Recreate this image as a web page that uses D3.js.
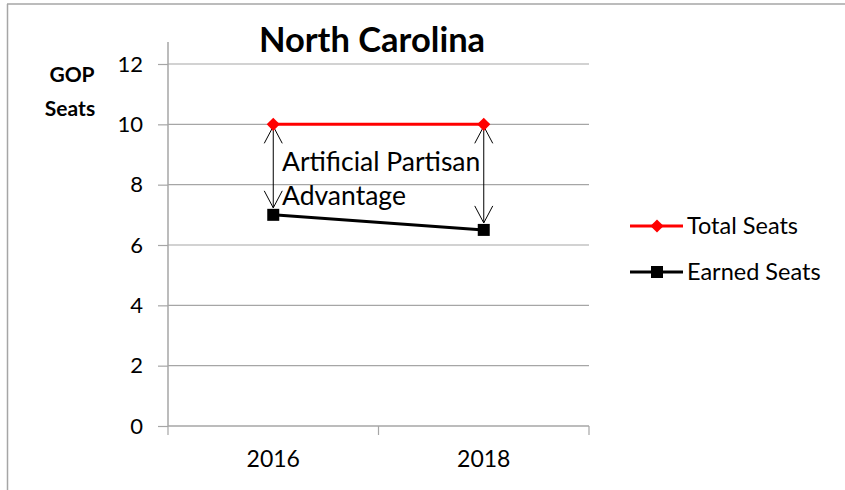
<!DOCTYPE html>
<html>
<head>
<meta charset="utf-8">
<script src="https://cdn.jsdelivr.net/npm/d3@7"></script>
<style>
  html, body { margin: 0; padding: 0; background: #fff; }
  svg { display: block; }
  text { font-family: Lato, "Open Sans", sans-serif; fill: #000; }
</style>
</head>
<body>
<svg id="chart" width="845" height="490"></svg>
<script>
const categories = ["2016", "2018"];
const totalSeats = [10, 10];
const earnedSeats = [7, 6.5];
const yTicks = [0, 2, 4, 6, 8, 10, 12];
const seriesNames = ["Total Seats", "Earned Seats"];
const titleText = "North Carolina";
const yTitle = ["GOP", "Seats"];
const annotation = ["Artificial Partisan", "Advantage"];

const svg = d3.select("#chart");
const W = 845, H = 490;
const plot = { left: 168, right: 589, top: 64, bottom: 426 };
const grid = "#a6a6a6";

svg.append("rect").attr("width", W).attr("height", H).attr("fill", "#fff");

// outer frame (top and left visible)
svg.append("line").attr("x1", 7).attr("x2", W).attr("y1", 4).attr("y2", 4)
  .attr("stroke", grid).attr("stroke-width", 1.5);
svg.append("line").attr("x1", 7.5).attr("x2", 7.5).attr("y1", 4).attr("y2", H)
  .attr("stroke", grid).attr("stroke-width", 1.5);

const x = d3.scaleBand().domain(categories).range([plot.left, plot.right]).padding(0);
const y = d3.scaleLinear().domain([0, 12]).range([plot.bottom, plot.top]);
const cx = c => x(c) + x.bandwidth() / 2;

// gridlines
svg.append("g").selectAll("line").data(yTicks.filter(d => d > 0)).join("line")
  .attr("x1", plot.left).attr("x2", plot.right)
  .attr("y1", d => y(d)).attr("y2", d => y(d))
  .attr("stroke", grid).attr("stroke-width", 1.2);

// y axis
const yAxis = svg.append("g").attr("transform", `translate(${plot.left},0)`)
  .call(d3.axisLeft(y).tickValues(yTicks).tickSize(10).tickPadding(15).tickFormat(d3.format("d")));
yAxis.select(".domain").attr("stroke", grid).attr("stroke-width", 1.5).attr("d", `M0,${y(0)}V${y(12)-22}`);
yAxis.selectAll(".tick line").attr("stroke", grid).attr("stroke-width", 1.2);
yAxis.selectAll(".tick text").attr("font-size", 22).attr("font-family", "Lato, sans-serif").attr("fill", "#000");

// x axis
const xAxis = svg.append("g").attr("transform", `translate(0,${plot.bottom})`)
  .call(d3.axisBottom(x).tickSize(0).tickPadding(25));
xAxis.select(".domain").attr("stroke", grid).attr("stroke-width", 1.5).attr("d", `M${plot.left},0H${plot.right}`);
xAxis.selectAll(".tick text").attr("font-size", 23).attr("font-family", "Lato, sans-serif").attr("fill", "#000");
// category boundary ticks
const bounds = [plot.left, x(categories[1]), plot.right];
xAxis.append("g").selectAll("line").data(bounds).join("line")
  .attr("x1", d => d).attr("x2", d => d).attr("y1", 0).attr("y2", 9)
  .attr("stroke", grid).attr("stroke-width", 1.2);

// title
svg.append("text").attr("x", 372).attr("y", 52).attr("text-anchor", "middle")
  .attr("font-size", 34.5).attr("font-weight", "bold").text(titleText);

// y axis title
svg.append("text").attr("x", 72).attr("y", 82).attr("text-anchor", "middle")
  .attr("font-size", 21).attr("font-weight", "bold").text(yTitle[0]);
svg.append("text").attr("x", 70).attr("y", 116).attr("text-anchor", "middle")
  .attr("font-size", 21).attr("font-weight", "bold").text(yTitle[1]);

// arrows (double headed, open heads)
const arrowG = svg.append("g");
const arrows = categories.map((c, i) => ({ x: cx(c), y1: y(totalSeats[i]) + 2, y2: y(earnedSeats[i]) - 7 }));
arrows.forEach(a => {
  arrowG.append("line").attr("x1", a.x).attr("x2", a.x).attr("y1", a.y1).attr("y2", a.y2)
    .attr("stroke", "#000").attr("stroke-width", 1);
  const hw = 9, hl = 17;
  arrowG.append("path").attr("d", `M${a.x - hw},${a.y1 + hl}L${a.x},${a.y1}L${a.x + hw},${a.y1 + hl}`)
    .attr("fill", "none").attr("stroke", "#000").attr("stroke-width", 1);
  arrowG.append("path").attr("d", `M${a.x - hw},${a.y2 - hl}L${a.x},${a.y2}L${a.x + hw},${a.y2 - hl}`)
    .attr("fill", "none").attr("stroke", "#000").attr("stroke-width", 1);
});

// annotation text
svg.append("text").attr("x", 282).attr("y", 171).attr("font-size", 26.5).text(annotation[0]);
svg.append("text").attr("x", 282).attr("y", 205).attr("font-size", 26.5).text(annotation[1]);

// lines
const line = d3.line().x((d, i) => cx(categories[i])).y(d => y(d));
svg.append("path").datum(totalSeats).attr("d", line).attr("fill", "none")
  .attr("stroke", "#ff0000").attr("stroke-width", 3);
svg.append("path").datum(earnedSeats).attr("d", line).attr("fill", "none")
  .attr("stroke", "#000").attr("stroke-width", 3);

const diamond = d3.symbol().type(d3.symbolDiamond2).size(110);
const square = d3.symbol().type(d3.symbolSquare).size(144);
svg.append("g").selectAll("path").data(totalSeats).join("path")
  .attr("d", diamond).attr("fill", "#ff0000")
  .attr("transform", (d, i) => `translate(${cx(categories[i])},${y(d)})`);
svg.append("g").selectAll("path").data(earnedSeats).join("path")
  .attr("d", square).attr("fill", "#000")
  .attr("transform", (d, i) => `translate(${cx(categories[i])},${y(d)})`);

// legend
const legend = svg.append("g");
const legY = [226, 272];
const legColors = ["#ff0000", "#000"];
seriesNames.forEach((name, i) => {
  legend.append("line").attr("x1", 630).attr("x2", 683).attr("y1", legY[i]).attr("y2", legY[i])
    .attr("stroke", legColors[i]).attr("stroke-width", 3);
  legend.append("path").attr("d", i === 0 ? diamond : square).attr("fill", legColors[i])
    .attr("transform", `translate(657,${legY[i]})`);
  legend.append("text").attr("x", 687).attr("y", legY[i] + 8).attr("font-size", 23.5).text(name);
});
</script>
</body>
</html>
